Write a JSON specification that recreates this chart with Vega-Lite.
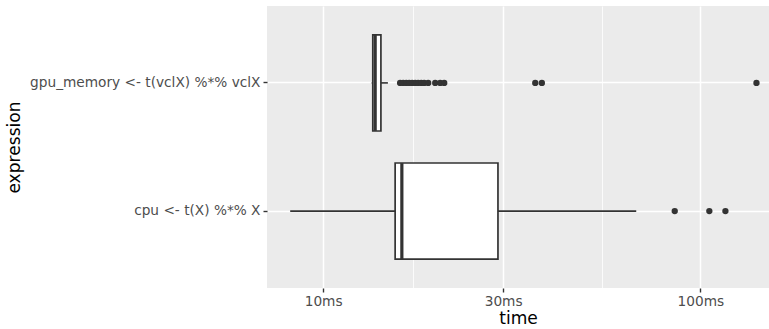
{
  "$schema": "https://vega.github.io/schema/vega-lite/v6.json",
  "width": 502,
  "height": 282,
  "autosize": {"type": "none"},
  "padding": {"left": 267, "top": 6, "right": 0, "bottom": 41},
  "background": "white",
  "config": {
    "font": "DejaVu Sans",
    "view": {"fill": "#EBEBEB", "stroke": null},
    "axis": {
      "domain": false,
      "grid": true,
      "gridColor": "white",
      "gridWidth": 1.5,
      "tickColor": "#333333",
      "tickSize": 4,
      "tickWidth": 1.4,
      "labelColor": "#4D4D4D",
      "labelFontSize": 13.7,
      "labelLimit": 0,
      "labelFont": "DejaVu Sans",
      "titleFont": "DejaVu Sans",
      "titleFontSize": 17.1,
      "titleFontWeight": "normal",
      "titleColor": "black"
    }
  },
  "datasets": {
    "stats": [
      {"expression": "gpu_memory <- t(vclX) %*% vclX", "min": 13.45, "q1": 13.54, "median": 13.74, "q3": 14.23, "max": 14.85},
      {"expression": "cpu <- t(X) %*% X", "min": 8.18, "q1": 15.52, "median": 16.17, "q3": 29.07, "max": 67.6}
    ],
    "outliers": [
      {"expression": "gpu_memory <- t(vclX) %*% vclX", "time": 16.0},
      {"expression": "gpu_memory <- t(vclX) %*% vclX", "time": 16.3},
      {"expression": "gpu_memory <- t(vclX) %*% vclX", "time": 16.61},
      {"expression": "gpu_memory <- t(vclX) %*% vclX", "time": 16.91},
      {"expression": "gpu_memory <- t(vclX) %*% vclX", "time": 17.22},
      {"expression": "gpu_memory <- t(vclX) %*% vclX", "time": 17.54},
      {"expression": "gpu_memory <- t(vclX) %*% vclX", "time": 17.86},
      {"expression": "gpu_memory <- t(vclX) %*% vclX", "time": 18.2},
      {"expression": "gpu_memory <- t(vclX) %*% vclX", "time": 18.53},
      {"expression": "gpu_memory <- t(vclX) %*% vclX", "time": 18.99},
      {"expression": "gpu_memory <- t(vclX) %*% vclX", "time": 19.82},
      {"expression": "gpu_memory <- t(vclX) %*% vclX", "time": 20.43},
      {"expression": "gpu_memory <- t(vclX) %*% vclX", "time": 20.94},
      {"expression": "gpu_memory <- t(vclX) %*% vclX", "time": 36.5},
      {"expression": "gpu_memory <- t(vclX) %*% vclX", "time": 38.0},
      {"expression": "gpu_memory <- t(vclX) %*% vclX", "time": 140.8},
      {"expression": "cpu <- t(X) %*% X", "time": 85.5},
      {"expression": "cpu <- t(X) %*% X", "time": 105.6},
      {"expression": "cpu <- t(X) %*% X", "time": 116.5}
    ]
  },
  "resolve": {"axis": {"x": "independent"}},
  "layer": [
    {
      "data": {"name": "stats"},
      "mark": {"type": "rule", "color": "#333333", "strokeWidth": 1.6},
      "encoding": {
        "y": {
          "field": "expression", "type": "nominal",
          "sort": ["gpu_memory <- t(vclX) %*% vclX", "cpu <- t(X) %*% X"],
          "scale": {"paddingInner": 0.25, "paddingOuter": 0.225},
          "axis": {"title": "expression", "bandPosition": 0.5, "labelPadding": 3, "titleX": -252.5, "titleY": 141, "titleBaseline": "middle", "titleAngle": -90, "titleAlign": "center"}
        },
        "x": {
          "field": "min", "type": "quantitative",
          "scale": {"type": "log", "domain": [7.1, 152], "nice": false, "zero": false},
          "axis": {"orient": "bottom", "values": [17.32, 54.77], "grid": true, "gridWidth": 0.8, "labels": false, "ticks": false, "title": null, "domain": false}
        },
        "x2": {"field": "max"}
      }
    },
    {
      "data": {"name": "stats"},
      "mark": {"type": "bar", "fill": "white", "stroke": "#333333", "strokeWidth": 1.7},
      "encoding": {
        "y": {"field": "expression", "type": "nominal", "sort": ["gpu_memory <- t(vclX) %*% vclX", "cpu <- t(X) %*% X"]},
        "x": {
          "field": "q1", "type": "quantitative",
          "axis": {"title": "time", "orient": "bottom", "grid": true, "values": [10, 30, 100], "labelExpr": "datum.value + 'ms'", "labelPadding": 2, "titlePadding": 2}
        },
        "x2": {"field": "q3"}
      }
    },
    {
      "data": {"name": "stats"},
      "mark": {"type": "tick", "color": "#333333", "thickness": 3.2, "size": 96, "opacity": 1},
      "encoding": {
        "y": {"field": "expression", "type": "nominal", "sort": ["gpu_memory <- t(vclX) %*% vclX", "cpu <- t(X) %*% X"]},
        "x": {"field": "median", "type": "quantitative", "axis": null}
      }
    },
    {
      "data": {"name": "outliers"},
      "mark": {"type": "circle", "color": "#333333", "size": 40, "opacity": 1},
      "encoding": {
        "y": {"field": "expression", "type": "nominal", "sort": ["gpu_memory <- t(vclX) %*% vclX", "cpu <- t(X) %*% X"]},
        "x": {"field": "time", "type": "quantitative", "axis": null}
      }
    }
  ]
}
